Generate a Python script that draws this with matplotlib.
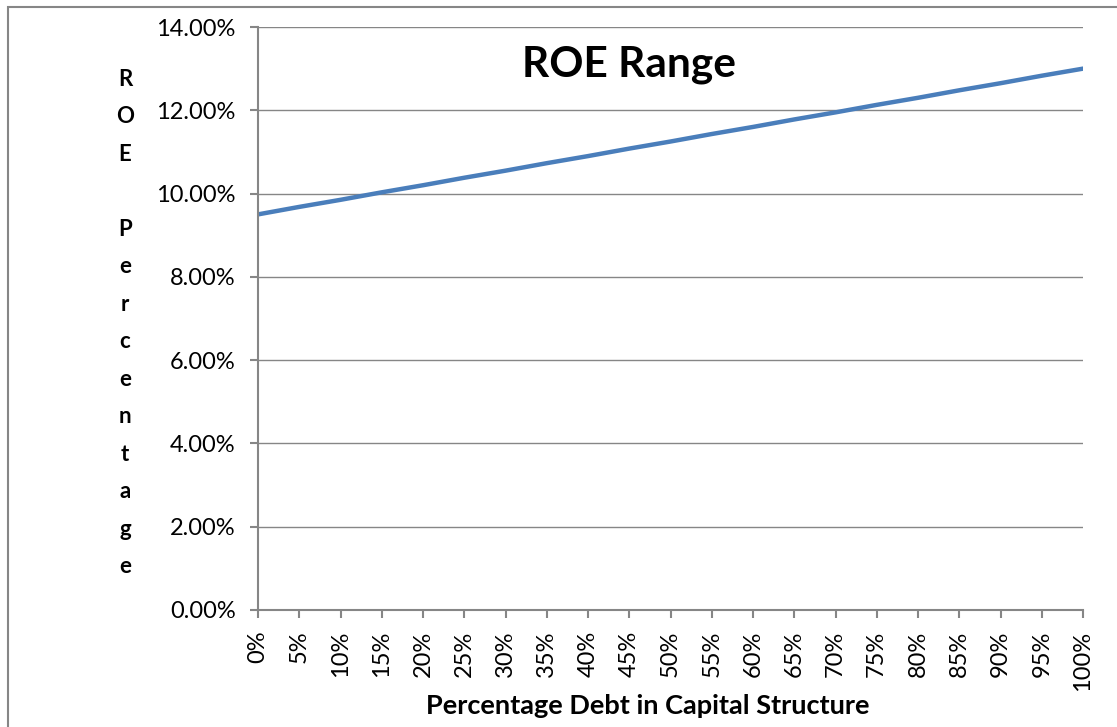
import matplotlib.pyplot as plt
from matplotlib.patches import Rectangle
from matplotlib.ticker import FuncFormatter

# Data
debt_pct = [0, 5, 10, 15, 20, 25, 30, 35, 40, 45, 50,
            55, 60, 65, 70, 75, 80, 85, 90, 95, 100]
roe_pct = [9.50, 9.68, 9.85, 10.03, 10.20, 10.38, 10.55, 10.73, 10.90, 11.08, 11.25,
           11.43, 11.60, 11.78, 11.95, 12.13, 12.30, 12.48, 12.65, 12.83, 13.00]
x_labels = [f"{d}%" for d in debt_pct]

plt.rcParams['font.family'] = ['Lato', 'DejaVu Sans']
grey = '#868686'

fig = plt.figure(figsize=(11.17, 7.27), dpi=100)
W, H = 1117, 727
ax = fig.add_axes([258 / W, 1 - 610 / H, (1083 - 258) / W, (610 - 27) / H])

# outer chart border
fig.patches.append(Rectangle((8 / W, -0.05), 1.2, 1 - 7 / H + 0.05, transform=fig.transFigure,
                             fill=False, edgecolor=grey, linewidth=1.5))

ax.plot(debt_pct, roe_pct, color='#4a7ebb', linewidth=3.2, solid_capstyle='round')

ax.set_xlim(0, 100)
ax.set_ylim(0, 14)
ax.set_yticks(range(0, 15, 2))
ax.yaxis.set_major_formatter(FuncFormatter(lambda v, p: f"{v:.2f}%"))
ax.set_xticks(debt_pct)
ax.set_xticklabels(x_labels, rotation=90)

ax.grid(axis='y', color=grey, linewidth=1.0)
ax.set_axisbelow(True)
for s in ['top', 'right']:
    ax.spines[s].set_visible(False)
for s in ['left', 'bottom']:
    ax.spines[s].set_color(grey)
    ax.spines[s].set_linewidth(1.5)
ax.tick_params(axis='both', colors=grey, labelcolor='black', labelsize=17,
               length=6, width=1.5, direction='out')
ax.tick_params(axis='y', pad=10)
ax.tick_params(axis='x', pad=9)

ax.text(0.45, 0.935, "ROE Range", transform=ax.transAxes, ha='center', va='center',
        fontsize=30.5, fontweight='bold')

# stacked vertical y label, one letter per line
fig.text(125 / W, 1 - 323 / H, "\n".join("ROE Percentage"),
         ha='center', va='center', fontsize=16, fontweight='bold', linespacing=1.97)

fig.text(648 / W, 1 - 706 / H, "Percentage Debt in Capital Structure",
         ha='center', va='center', fontsize=19.5, fontweight='bold')

fig.savefig("out.png", dpi=100)
